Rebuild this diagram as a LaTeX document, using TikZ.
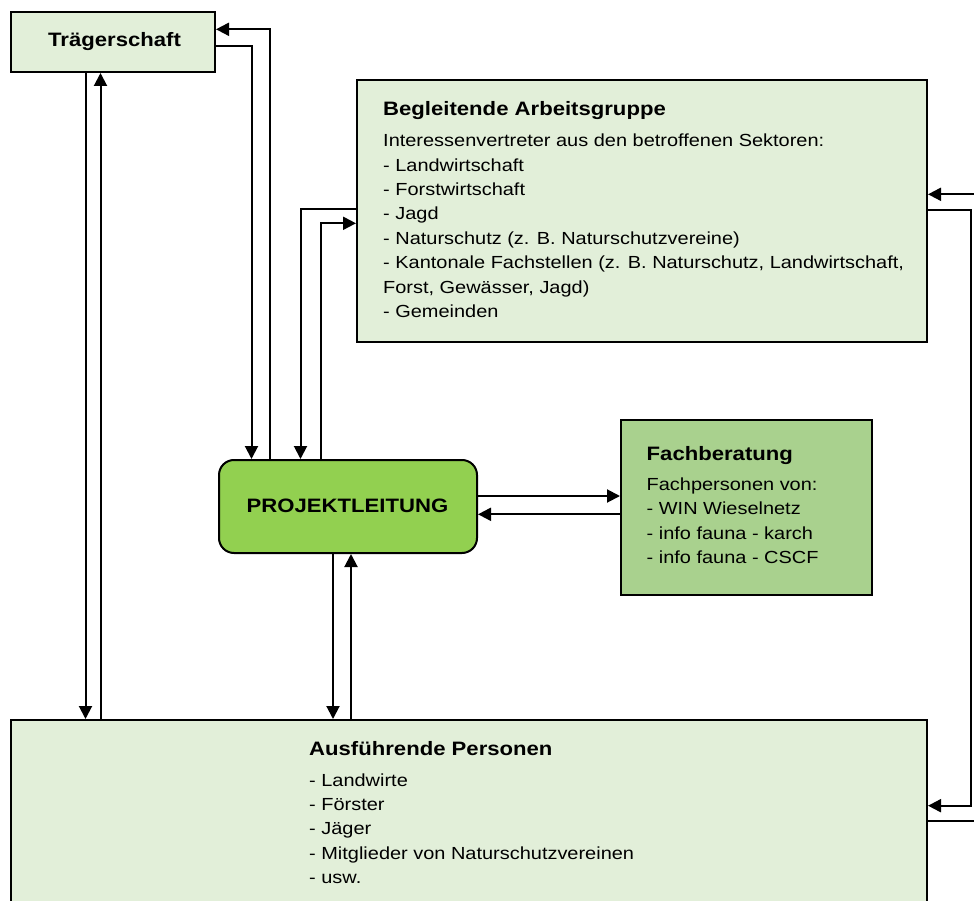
\documentclass[tikz,border=0pt]{standalone}
\usepackage{fontspec}
\setmainfont[FakeStretch=1.14]{Liberation Sans}
\usetikzlibrary{arrows.meta}
\definecolor{lightg}{RGB}{226,239,217}
\definecolor{midg}{RGB}{169,209,142}
\definecolor{plg}{RGB}{146,208,80}
\newcommand\bodyf{\fontsize{17.5}{24.4}\selectfont}
\newcommand\titf{\fontsize{19.4}{24}\selectfont\bfseries}
\tikzset{
  boxn/.style={draw=black, line width=2pt, rectangle, inner sep=0pt, anchor=north west},
  txt/.style={anchor=base west, inner sep=0pt, font=\bodyf},
  ttl/.style={anchor=base west, inner sep=0pt, font=\titf},
  arr/.style={draw=black, line width=2pt, -{Triangle[length=13pt,width=13pt]}},
  ln/.style={draw=black, line width=2pt}
}
\begin{document}
\begin{tikzpicture}[x=1pt,y=-1pt]
\useasboundingbox (0,0) rectangle (974,901);
\clip (0,0) rectangle (974,901);
% boxes
\node[boxn, fill=lightg, minimum width=204, minimum height=60] (tr) at (10,11) {};
\node[boxn, fill=lightg, minimum width=570, minimum height=262] (bg) at (356,79) {};
\node[boxn, fill=midg, minimum width=251, minimum height=175] (fa) at (620,419) {};
\node[boxn, fill=plg, rounded corners=15pt, minimum width=258, minimum height=93] (pl) at (218,459) {};
\node[boxn, fill=lightg, minimum width=916, minimum height=200] (au) at (10,719) {};
% texts
\node[ttl] (trt) at (48,46.7) {Trägerschaft};
\node[ttl] (bgt) at (383,115.7) {Begleitende Arbeitsgruppe};
\node[txt] (bg1) at (383,146.7) {Interessenvertreter aus den betroffenen Sektoren:};
\node[txt] (bg2) at (383,171.1) {- Landwirtschaft};
\node[txt] (bg3) at (383,195.5) {- Forstwirtschaft};
\node[txt] (bg4) at (383,219.9) {- Jagd};
\node[txt] (bg5) at (383,244.3) {- Naturschutz (z. B. Naturschutzvereine)};
\node[txt] (bg6) at (383,268.7) {- Kantonale Fachstellen (z. B. Naturschutz, Landwirtschaft,};
\node[txt] (bg7) at (383,293.1) {Forst, Gewässer, Jagd)};
\node[txt] (bg8) at (383,317.5) {- Gemeinden};
\node[ttl] (fat) at (646.5,460) {Fachberatung};
\node[txt] (fa1) at (646.5,490) {Fachpersonen von:};
\node[txt] (fa2) at (646.5,514.8) {- WIN Wieselnetz};
\node[txt] (fa3) at (646.5,539.2) {- info fauna - karch};
\node[txt] (fa4) at (646.5,563.6) {- info fauna - CSCF};
\node[anchor=base, inner sep=0pt, font=\titf] (plt) at (347.5,512.7) {PROJEKTLEITUNG};
\node[ttl] (aut) at (309,755) {Ausführende Personen};
\node[txt] (au1) at (309,786) {- Landwirte};
\node[txt] (au2) at (309,810.4) {- Förster};
\node[txt] (au3) at (309,834.8) {- Jäger};
\node[txt] (au4) at (309,859.2) {- Mitglieder von Naturschutzvereinen};
\node[txt] (au5) at (309,883.6) {- usw.};
% free ends
\coordinate (kin) at (985,194.3);
\coordinate (rtop) at (971,210);
\coordinate (rbot) at (971,805.7);
\coordinate (mout) at (985,821);
% connectors
\draw[arr] ([xshift=75.5]tr.south west) -- ([xshift=75.5]au.north west);
\draw[arr] ([xshift=90.5]au.north west) -- ([xshift=90.5]tr.south west);
\draw[arr] ([yshift=-35]tr.north east) -| ([xshift=33.5]pl.north west);
\draw[arr] ([xshift=52]pl.north west) |- ([yshift=-18.3]tr.north east);
\draw[arr] ([yshift=-130]bg.north west) -| ([xshift=82.5]pl.north west);
\draw[arr] ([xshift=102.5]pl.north west) |- ([yshift=-144.3]bg.north west);
\draw[arr] ([yshift=-37]pl.north east) -- ([yshift=-77]fa.north west);
\draw[arr] ([yshift=-95.3]fa.north west) -- ([yshift=-55.3]pl.north east);
\draw[arr] ([xshift=115]pl.south west) -- ([xshift=323]au.north west);
\draw[arr] ([xshift=341]au.north west) -- ([xshift=133]pl.south west);
\draw[arr] (kin) -- ([yshift=-115.3]bg.north east);
\draw[arr] ([yshift=-131]bg.north east) -- (rtop) -- (rbot) -- ([yshift=-86.7]au.north east);
\draw[ln] ([yshift=-102]au.north east) -- (mout);
\end{tikzpicture}
\end{document}
